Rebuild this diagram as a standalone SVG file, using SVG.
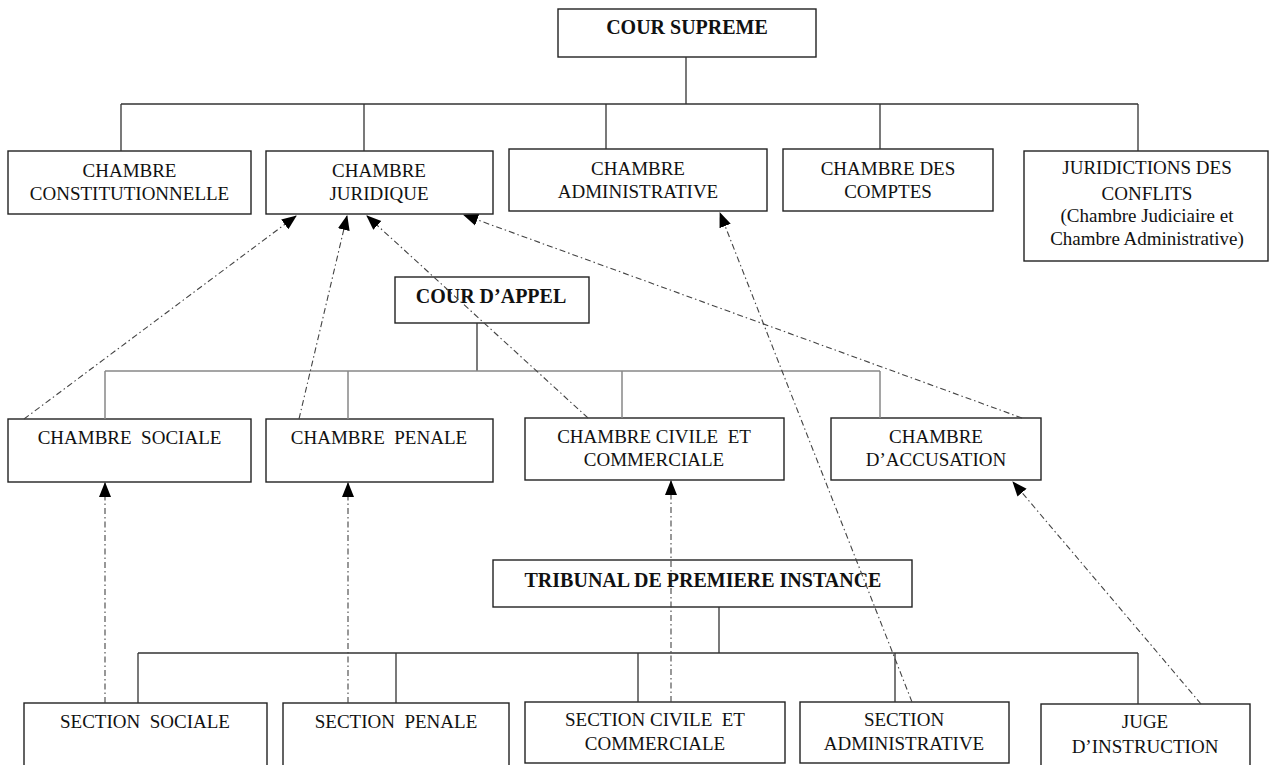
<svg xmlns="http://www.w3.org/2000/svg" width="1273" height="765" viewBox="0 0 1273 765">
<style>
.box{fill:#fff;stroke:#222;stroke-width:1.4}
.t{font-family:"Liberation Serif","Times New Roman",serif;font-size:19px;fill:#111;text-anchor:middle}
.b{font-weight:bold;font-size:20px}
.ln{stroke:#333;stroke-width:1.3;fill:none}
.lg{stroke:#888;stroke-width:1.5;fill:none}
.dd{stroke:#444;stroke-width:1.1;fill:none;stroke-dasharray:6 3 1.5 3;marker-end:url(#ah)}
</style>
<defs>
<marker id="ah" markerUnits="userSpaceOnUse" markerWidth="15" markerHeight="15" viewBox="0 0 15 14" refX="14" refY="7" orient="auto">
<path d="M0,1 L15,7 L0,13 Z" fill="#000"/>
</marker>
</defs>
<rect width="1273" height="765" fill="#fff"/>
<g id="cour-supreme"><rect class="box" x="558" y="9" width="258" height="48"/><text class="t b" x="687" y="34">COUR SUPREME</text></g>
<g id="ch-constitutionnelle"><rect class="box" x="8" y="151" width="243" height="63"/><text class="t" x="129.5" y="177">CHAMBRE</text><text class="t" x="129.5" y="200">CONSTITUTIONNELLE</text></g>
<g id="ch-juridique"><rect class="box" x="266" y="151" width="227" height="63"/><text class="t" x="379" y="177">CHAMBRE</text><text class="t" x="379" y="200">JURIDIQUE</text></g>
<g id="ch-administrative"><rect class="box" x="509" y="149" width="258" height="62"/><text class="t" x="638" y="175">CHAMBRE</text><text class="t" x="638" y="198">ADMINISTRATIVE</text></g>
<g id="ch-comptes"><rect class="box" x="783" y="149" width="210" height="62"/><text class="t" x="888" y="175">CHAMBRE DES</text><text class="t" x="888" y="198">COMPTES</text></g>
<g id="juridictions"><rect class="box" x="1024" y="151" width="244" height="110"/><text class="t" x="1147" y="174">JURIDICTIONS DES</text><text class="t" x="1147" y="200">CONFLITS</text><text class="t" x="1147" y="222">(Chambre Judiciaire et</text><text class="t" x="1147" y="245">Chambre Administrative)</text></g>
<g id="cour-appel"><rect class="box" x="395" y="277" width="194" height="46"/><text class="t b" x="491" y="303">COUR D’APPEL</text></g>
<g id="ch-sociale"><rect class="box" x="8" y="419" width="243" height="63"/><text class="t" x="129.5" y="444" xml:space="preserve">CHAMBRE  SOCIALE</text></g>
<g id="ch-penale"><rect class="box" x="266" y="419" width="227" height="63"/><text class="t" x="379" y="444" xml:space="preserve">CHAMBRE  PENALE</text></g>
<g id="ch-civile"><rect class="box" x="525" y="418" width="259" height="62"/><text class="t" x="654" y="443" xml:space="preserve">CHAMBRE CIVILE  ET</text><text class="t" x="654" y="466">COMMERCIALE</text></g>
<g id="ch-accusation"><rect class="box" x="831" y="418" width="210" height="62"/><text class="t" x="936" y="443">CHAMBRE</text><text class="t" x="936" y="466">D’ACCUSATION</text></g>
<g id="tribunal"><rect class="box" x="493" y="560" width="419" height="47"/><text class="t b" x="703" y="587">TRIBUNAL DE PREMIERE INSTANCE</text></g>
<g id="sec-sociale"><rect class="box" x="24" y="703" width="243" height="70"/><text class="t" x="145" y="728" xml:space="preserve">SECTION  SOCIALE</text></g>
<g id="sec-penale"><rect class="box" x="283" y="703" width="226" height="70"/><text class="t" x="396" y="728" xml:space="preserve">SECTION  PENALE</text></g>
<g id="sec-civile"><rect class="box" x="525" y="702" width="260" height="61"/><text class="t" x="655" y="726" xml:space="preserve">SECTION CIVILE  ET</text><text class="t" x="655" y="750">COMMERCIALE</text></g>
<g id="sec-administrative"><rect class="box" x="800" y="702" width="209" height="61"/><text class="t" x="904" y="726">SECTION</text><text class="t" x="904" y="750">ADMINISTRATIVE</text></g>
<g id="juge"><rect class="box" x="1041" y="704" width="209" height="70"/><text class="t" x="1145" y="728">JUGE</text><text class="t" x="1145" y="753">D’INSTRUCTION</text></g>
<g id="connectors">
<path class="ln" d="M686,57 V104 M121,104 H1138 M121,104 V151 M364,104 V151 M606,104 V149 M880,104 V149 M1138,104 V151"/>
<path class="ln" d="M477,323 V371"/>
<path class="lg" d="M105,371 H880 M105,371 V419 M348,371 V419 M622,371 V418 M880,371 V418"/>
<path class="ln" d="M719,607 V653 M138,653 H1138 M138,653 V703 M396,653 V703 M638,653 V702 M895,653 V702 M1138,653 V704"/>
<line class="dd" x1="24" y1="419" x2="296" y2="216"/>
<line class="dd" x1="299" y1="419" x2="347" y2="216"/>
<line class="dd" x1="588" y1="418" x2="367" y2="216"/>
<line class="dd" x1="1022" y1="418" x2="464" y2="215"/>
<line class="dd" x1="105" y1="703" x2="105" y2="483"/>
<line class="dd" x1="348" y1="703" x2="348" y2="483"/>
<line class="dd" x1="671" y1="702" x2="671" y2="481"/>
<line class="dd" x1="912" y1="702" x2="720" y2="213"/>
<line class="dd" x1="1201" y1="704" x2="1013" y2="482"/>
</g>
</svg>
